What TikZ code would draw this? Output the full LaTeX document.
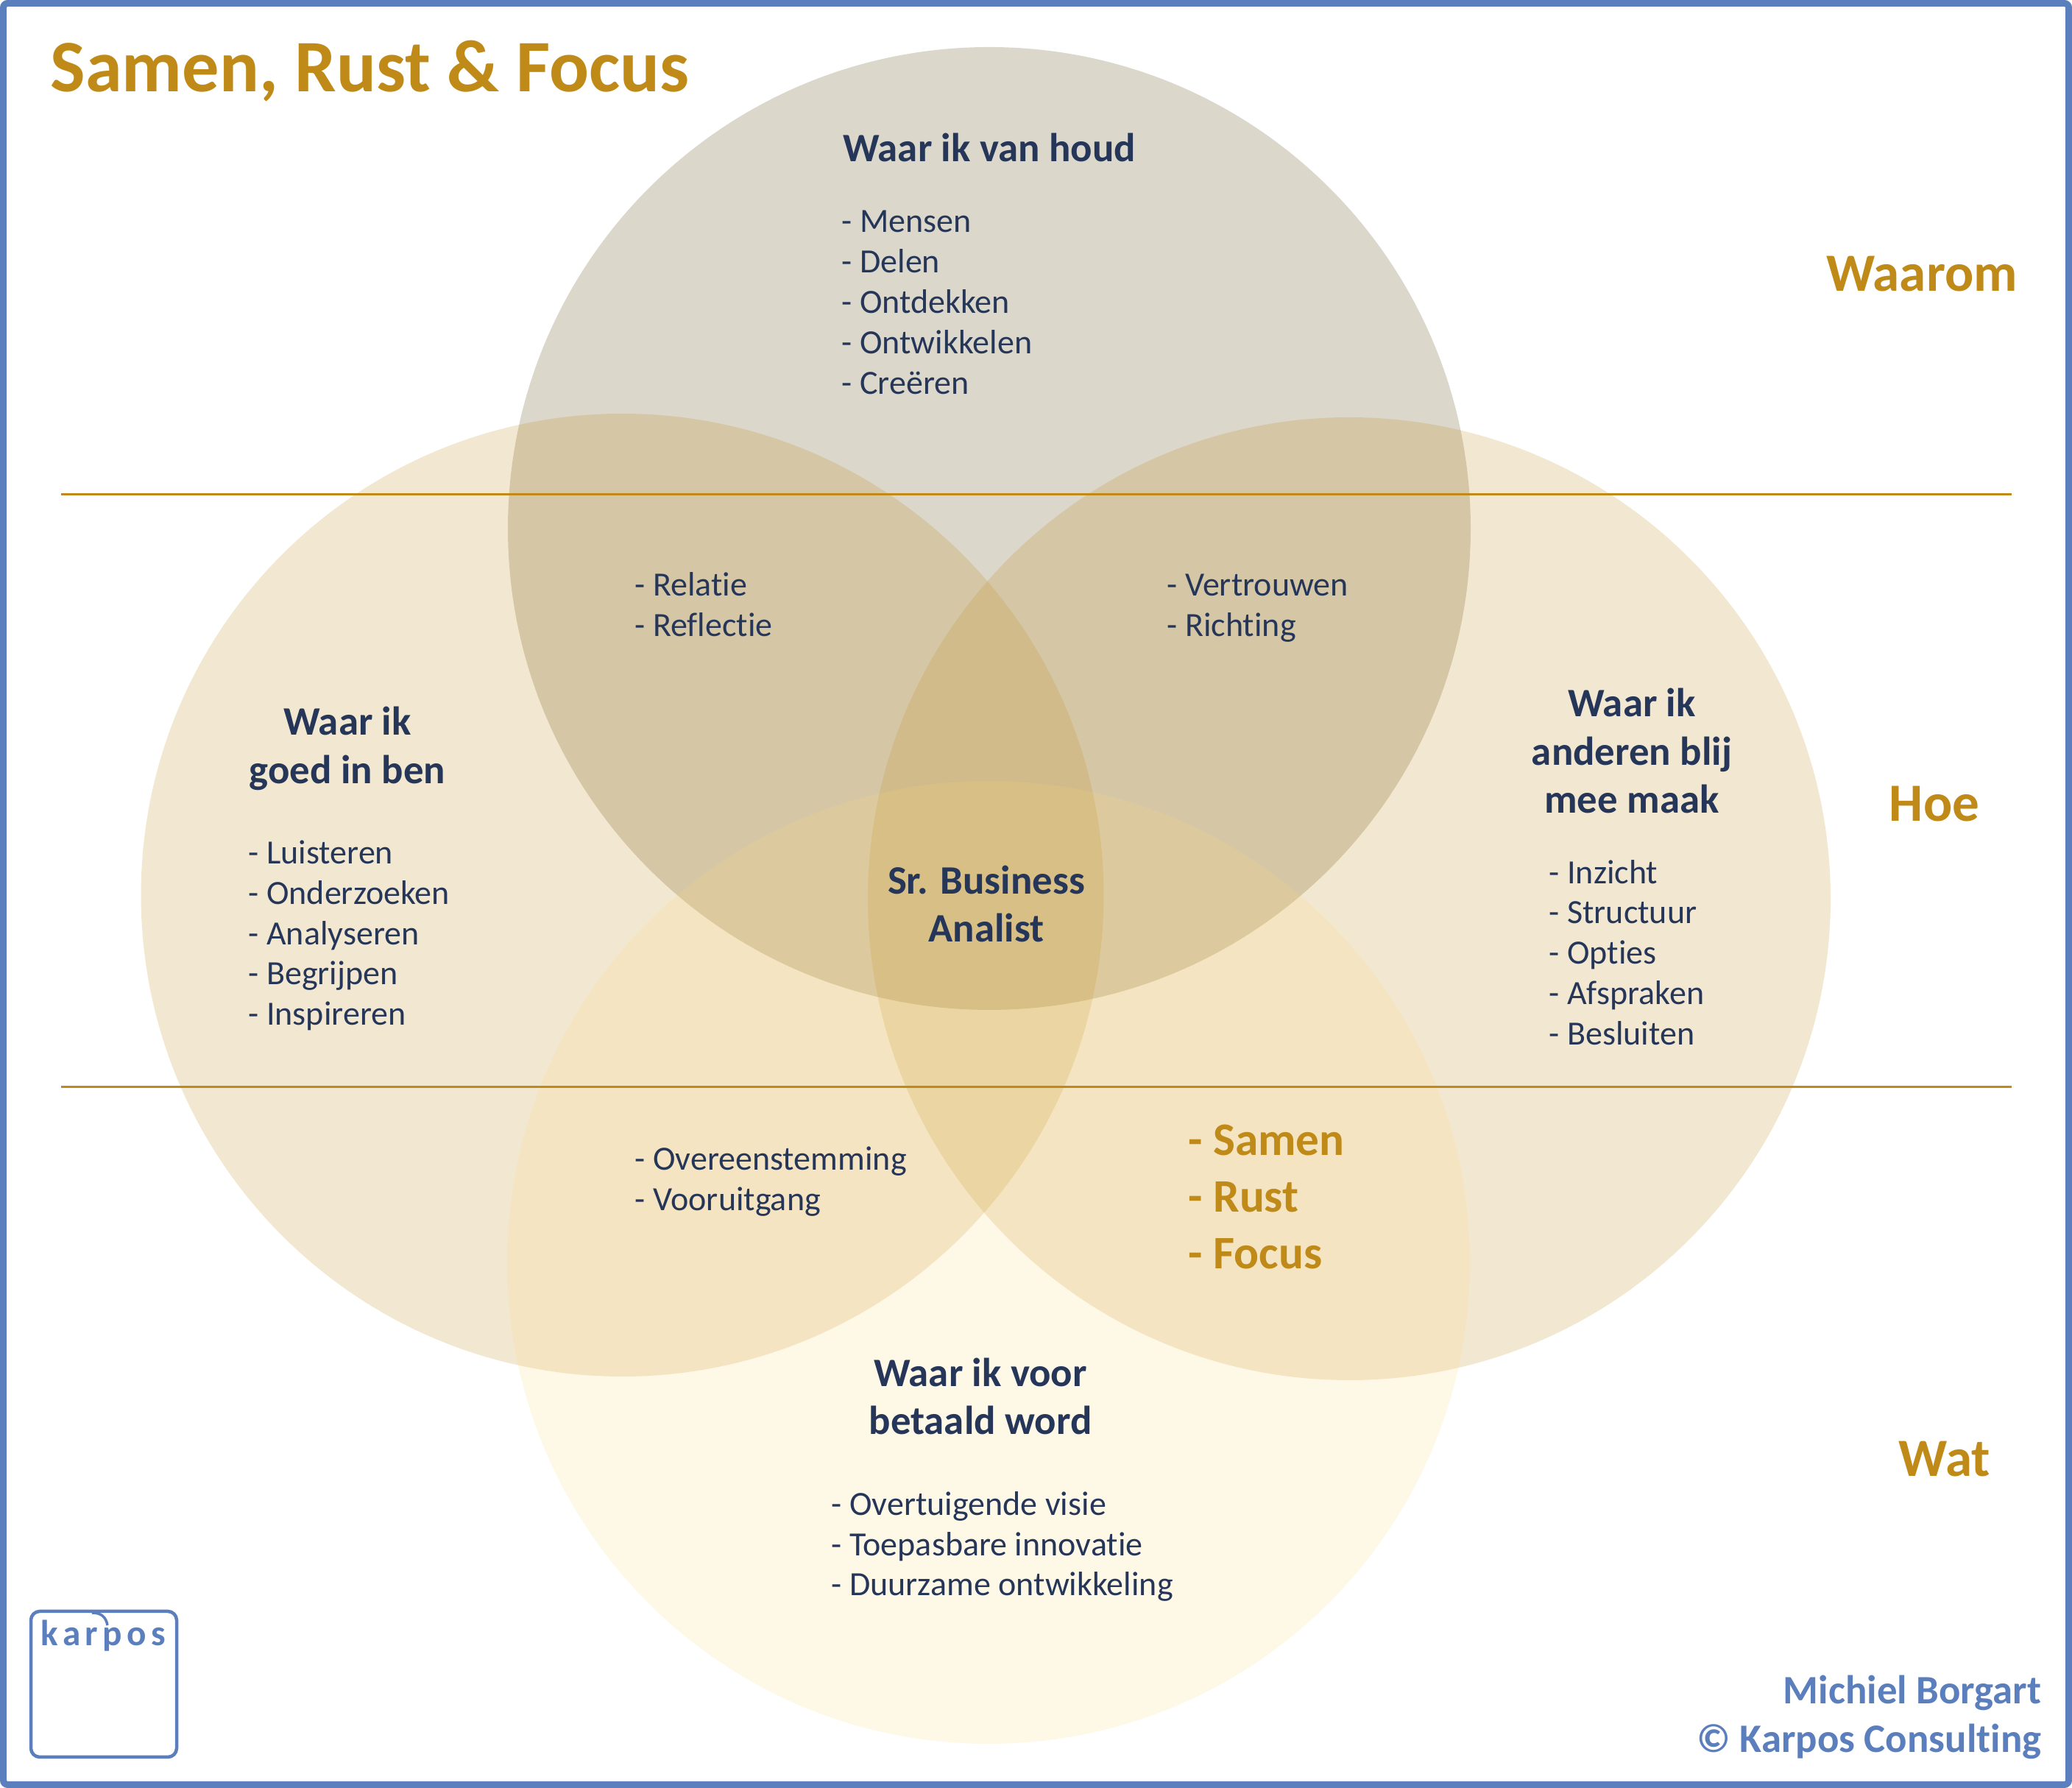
\documentclass[tikz,border=0pt]{standalone}
\usepackage{fontspec}
\setmainfont{Carlito}[Ligatures=NoCommon]

\definecolor{karposblue}{HTML}{5B7EBD}
\definecolor{karposgold}{HTML}{BF8A17}
\definecolor{karposnavy}{HTML}{263659}
\definecolor{karposstone}{HTML}{877A52}
\definecolor{karposamber}{HTML}{FBD67A}

\tikzset{
    head/.style={text=karposnavy, align=center, font=\fontsize{15.6}{18.6}\selectfont\bfseries},
    items/.style={text=karposnavy, align=left, anchor=west, inner sep=0pt, font=\fontsize{13.1}{15.6}\selectfont},
    level/.style={text=karposgold, font=\fontsize{20.8}{25}\selectfont\bfseries},
    divider/.style={karposgold, line width=.03cm},
}

\begin{document}
\begin{tikzpicture}

    \useasboundingbox (0,0) rectangle (28.15,24.29);

    % circles
    \fill [karposstone, opacity=.3] (13.44,17.11) circle (6.54);
    \fill [karposgold, opacity=.2] (8.455,12.13) circle (6.54);
    \fill [karposgold, opacity=.2] (18.33,12.08) circle (6.54);
    \fill [karposamber, opacity=.18] (13.43,7.14) circle (6.54);

    % frame
    \draw [karposblue, line width=.09cm, rounded corners=.06cm] (.045,.045) rectangle (28.105,24.245);

    % dividers
    \coordinate (topleft) at (.83,17.57);
    \coordinate (topright) at (27.33,17.57);
    \coordinate (lowleft) at (.83,9.52);
    \coordinate (lowright) at (27.33,9.52);
    \draw [divider] (topleft) -- (topright);
    \draw [divider] (lowleft) -- (lowright);

    % title
    \node [anchor=west, inner sep=0pt, text=karposgold, font=\fontsize{28.6}{34}\selectfont\bfseries] (title) at (.68,23.32) {Samen, Rust \& Focus};

    % top circle
    \node [head] (love) at (13.44,22.28) {Waar ik van houd};
    \node [items] (lovelist) at (11.43,20.18) {- Mensen\\- Delen\\- Ontdekken\\- Ontwikkelen\\- Creëren};

    % left circle
    \node [head] (good) at (4.72,14.12) {Waar ik\\goed in ben};
    \node [items] (goodlist) at (3.37,11.58) {- Luisteren\\- Onderzoeken\\- Analyseren\\- Begrijpen\\- Inspireren};

    % right circle
    \node [head] (happy) at (22.17,14.09) {Waar ik\\anderen blij\\mee maak};
    \node [items] (happylist) at (21.04,11.35) {- Inzicht\\- Structuur\\- Opties\\- Afspraken\\- Besluiten};

    % bottom circle
    \node [head] (paid) at (13.32,5.32) {Waar ik voor\\betaald word};
    \node [items] (paidlist) at (11.29,3.28) {- Overtuigende visie\\- Toepasbare innovatie\\- Duurzame ontwikkeling};

    % overlaps
    \node [head] (role) at (13.40,12.01) {Sr. Business\\Analist};
    \node [items] (lovegood) at (8.62,16.08) {- Relatie\\- Reflectie};
    \node [items] (lovehappy) at (15.85,16.03) {- Vertrouwen\\- Richting};
    \node [items] (goodpaid) at (8.62,8.24) {- Overeenstemming\\- Vooruitgang};
    \node [items, text=karposgold, font=\fontsize{18}{21.9}\selectfont\bfseries] (happypaid) at (16.14,8.03) {- Samen\\- Rust\\- Focus};

    % levels
    \node [level] (why) at (26.11,20.57) {Waarom};
    \node [level] (how) at (26.28,13.37) {Hoe};
    \node [level] (what) at (26.42,4.47) {Wat};

    % signature
    \node [anchor=east, inner sep=0pt, align=right, text=karposblue, font=\fontsize{15.6}{18.6}\selectfont\bfseries] (credit) at (27.74,.96) {Michiel Borgart\\© Karpos Consulting};

    % logo
    \draw [karposblue, line width=.045cm, rounded corners=.12cm] (.42,.42) rectangle (2.40,2.40);
    \draw [karposblue, line width=.035cm] (1.25,2.38) .. controls (1.38,2.38) and (1.44,2.32) .. (1.46,2.21);
    \node [anchor=base west, inner sep=0pt, text=karposblue, font=\fontsize{14}{15}\selectfont\bfseries\addfontfeature{LetterSpace=13}] (brand) at (.55,1.93) {karpos};

\end{tikzpicture}
\end{document}
